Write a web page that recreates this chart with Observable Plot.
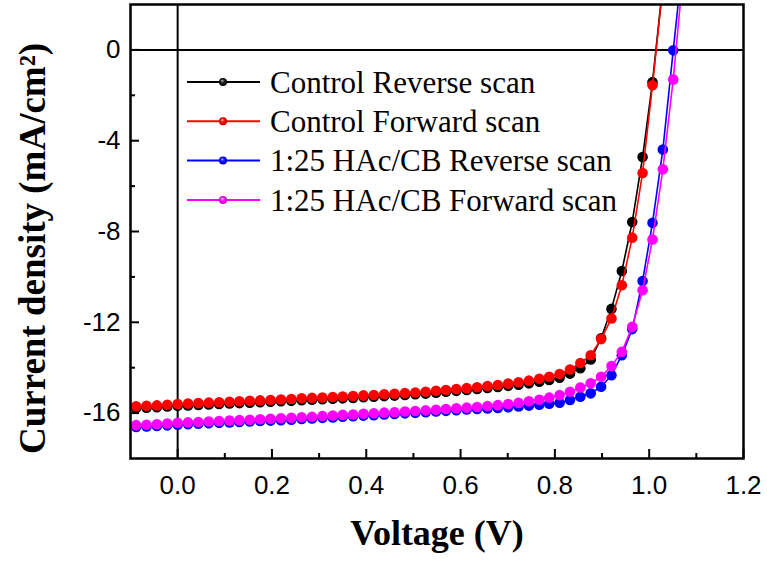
<!DOCTYPE html>
<html><head><meta charset="utf-8">
<script src="https://cdn.jsdelivr.net/npm/d3@7"></script>
<script src="https://cdn.jsdelivr.net/npm/@observablehq/plot@0.6"></script>
<style>
body{margin:0;background:#fff;}
#chart{position:relative;width:767px;height:563px;}
</style></head><body>
<svg width="0" height="0" style="position:absolute">
<defs>
<radialGradient id="g0" cx="0.5" cy="0.5" r="0.5" fx="0.38" fy="0.3">
<stop offset="0" stop-color="#c8c8c8"/><stop offset="0.45" stop-color="#202020"/><stop offset="1" stop-color="#000"/></radialGradient>
<radialGradient id="g1" cx="0.5" cy="0.5" r="0.5" fx="0.38" fy="0.3">
<stop offset="0" stop-color="#ffd8d8"/><stop offset="0.4" stop-color="#ff1a1a"/><stop offset="0.8" stop-color="#e00000"/><stop offset="1" stop-color="#a00000"/></radialGradient>
<radialGradient id="g2" cx="0.5" cy="0.5" r="0.5" fx="0.38" fy="0.3">
<stop offset="0" stop-color="#d0d0ff"/><stop offset="0.4" stop-color="#1a1aff"/><stop offset="0.8" stop-color="#0000e0"/><stop offset="1" stop-color="#0000a0"/></radialGradient>
<radialGradient id="g3" cx="0.5" cy="0.5" r="0.5" fx="0.38" fy="0.3">
<stop offset="0" stop-color="#ffd8ff"/><stop offset="0.4" stop-color="#ff1aff"/><stop offset="0.8" stop-color="#e000e0"/><stop offset="1" stop-color="#a000a0"/></radialGradient>
</defs></svg>
<div id="chart"></div>
<script>
// Voltage (V) sample points
const voltage = [-0.088,-0.066,-0.044,-0.022,0.000,0.022,0.044,0.066,0.088,0.110,0.131,0.153,0.175,0.197,0.219,0.241,0.263,0.285,0.307,0.329,0.350,0.372,0.394,0.416,0.438,0.460,0.482,0.504,0.526,0.548,0.569,0.591,0.613,0.635,0.657,0.679,0.701,0.723,0.745,0.767,0.788,0.810,0.832,0.854,0.876,0.898,0.920,0.942,0.964,0.986,1.007,1.029,1.051,1.073];

// Current density (mA/cm2)
const controlReverse = [-15.78,-15.76,-15.74,-15.71,-15.68,-15.66,-15.64,-15.62,-15.60,-15.58,-15.56,-15.54,-15.52,-15.50,-15.48,-15.46,-15.43,-15.41,-15.39,-15.37,-15.35,-15.33,-15.30,-15.28,-15.25,-15.23,-15.20,-15.17,-15.14,-15.10,-15.06,-15.02,-14.98,-14.94,-14.89,-14.85,-14.80,-14.75,-14.69,-14.62,-14.54,-14.44,-14.26,-14.02,-13.64,-12.70,-11.41,-9.74,-7.58,-4.72,-1.42,2.9];
const controlForward = [-15.70,-15.68,-15.66,-15.63,-15.60,-15.58,-15.56,-15.54,-15.52,-15.50,-15.48,-15.46,-15.44,-15.42,-15.40,-15.38,-15.35,-15.33,-15.31,-15.29,-15.27,-15.25,-15.22,-15.20,-15.17,-15.15,-15.12,-15.09,-15.06,-15.02,-14.98,-14.94,-14.90,-14.86,-14.81,-14.76,-14.70,-14.64,-14.57,-14.49,-14.40,-14.28,-14.08,-13.79,-13.45,-12.74,-11.83,-10.37,-8.27,-5.42,-1.56,2.8];
const hacReverse = [-16.61,-16.59,-16.57,-16.54,-16.51,-16.49,-16.47,-16.45,-16.43,-16.41,-16.39,-16.37,-16.35,-16.33,-16.31,-16.29,-16.26,-16.24,-16.21,-16.19,-16.16,-16.14,-16.11,-16.09,-16.06,-16.04,-16.01,-15.99,-15.96,-15.93,-15.90,-15.87,-15.84,-15.82,-15.80,-15.77,-15.74,-15.71,-15.67,-15.63,-15.59,-15.54,-15.42,-15.28,-15.13,-14.84,-14.33,-13.45,-12.30,-10.18,-7.62,-4.39,-0.02,4.3];
const hacForward = [-16.53,-16.51,-16.49,-16.46,-16.43,-16.41,-16.39,-16.37,-16.35,-16.33,-16.31,-16.29,-16.27,-16.25,-16.23,-16.21,-16.18,-16.16,-16.13,-16.11,-16.08,-16.06,-16.03,-16.01,-15.98,-15.96,-15.93,-15.91,-15.88,-15.85,-15.82,-15.79,-15.76,-15.73,-15.69,-15.65,-15.60,-15.55,-15.48,-15.41,-15.32,-15.21,-15.06,-14.87,-14.69,-14.40,-13.93,-13.30,-12.20,-10.59,-8.35,-5.26,-1.30,3.6];

const seriesNames = ["Control Reverse scan","Control Forward scan","1:25 HAc/CB Reverse scan","1:25 HAc/CB Forward scan"];
const seriesColors = ["#000000","#ff0000","#0000ff","#ff00ff"];

const xDomain = [-0.1, 1.2];
const yDomain = [-18, 2];
const xMajorTicks = [0, 0.2, 0.4, 0.6, 0.8, 1.0, 1.2];
const xMinorTicks = [0.1, 0.3, 0.5, 0.7, 0.9, 1.1];
const yMajorTicks = [0, -4, -8, -12, -16];
const yMinorTicks = [-2, -6, -10, -14];
const xLabel = "Voltage (V)";
const yLabel = "Current density (mA/cm\u00B2)";

const seriesValues = [controlReverse, controlForward, hacReverse, hacForward];
const series = seriesValues.map((vals, i) => ({
  name: seriesNames[i], color: seriesColors[i],
  data: vals.map((J, k) => ({V: voltage[k], J}))
}));

const W = 767, H = 563, mL = 130, mR = 24, mT = 4, mB = 105;
const pxPerY = (H - mT - mB) / (yDomain[1] - yDomain[0]);
const pxPerX = (W - mL - mR) / (xDomain[1] - xDomain[0]);
const majorLen = 9, minorLen = 5;

const marks = [
  Plot.ruleX([0], {stroke: "black", strokeWidth: 2}),
  Plot.ruleY([0], {stroke: "black", strokeWidth: 2})
];
series.forEach(s => {
  marks.push(Plot.line(s.data, {x: "V", y: "J", stroke: s.color, strokeWidth: 1.6, clip: true}));
  marks.push(Plot.dot(s.data, {x: "V", y: "J", r: 5.3, fill: s.color, stroke: "none", clip: true}));
});
marks.push(
  Plot.ruleX(xMajorTicks, {x: d => d, y1: yDomain[0], y2: yDomain[0] + majorLen / pxPerY, stroke: "black", strokeWidth: 2}),
  Plot.ruleX(xMinorTicks, {x: d => d, y1: yDomain[0], y2: yDomain[0] + minorLen / pxPerY, stroke: "black", strokeWidth: 2}),
  Plot.ruleY(yMajorTicks, {y: d => d, x1: xDomain[0], x2: xDomain[0] + majorLen / pxPerX, stroke: "black", strokeWidth: 2}),
  Plot.ruleY(yMinorTicks, {y: d => d, x1: xDomain[0], x2: xDomain[0] + minorLen / pxPerX, stroke: "black", strokeWidth: 2}),
  Plot.axisX(xMajorTicks, {tickSize: 0, tickPadding: 17, tickFormat: d => d.toFixed(1), fontSize: 26, label: null}),
  Plot.axisY(yMajorTicks, {tickSize: 0, tickPadding: 10, tickFormat: d => String(d), fontSize: 26, label: null}),
  Plot.frame({stroke: "black", strokeWidth: 2.5}),
  Plot.text([xLabel], {text: d => d, frameAnchor: "bottom", textAnchor: "middle", lineAnchor: "middle", dy: 75, fontSize: 36, fontWeight: "bold", fontFamily: "Liberation Serif", fill: "black"}),
  Plot.text([yLabel], {text: d => d, frameAnchor: "left", textAnchor: "middle", lineAnchor: "middle", rotate: -90, dx: -97, dy: 17, fontSize: 37, fontWeight: "bold", fontFamily: "Liberation Serif", fill: "black"})
);

const chart = Plot.plot({
  width: W, height: H,
  marginLeft: mL, marginRight: mR, marginTop: mT, marginBottom: mB,
  style: {fontFamily: "'Liberation Sans', Arial, sans-serif", background: "white", color: "black", overflow: "visible"},
  x: {domain: xDomain},
  y: {domain: yDomain},
  marks
});
document.getElementById("chart").appendChild(chart);

// sphere-shaded markers
d3.select(chart).selectAll('g[aria-label="dot"]').each(function(_, i) {
  this.setAttribute("fill", `url(#g${i})`);
});

// legend inside the plot
const lg = d3.select(chart).append("g");
const legendRowY = [82, 121.3, 160.6, 200];
seriesNames.forEach((name, i) => {
  const y = legendRowY[i];
  lg.append("line").attr("x1", 187).attr("x2", 260).attr("y1", y).attr("y2", y)
    .attr("stroke", seriesColors[i]).attr("stroke-width", 2);
  lg.append("circle").attr("cx", 223).attr("cy", y).attr("r", 4).attr("fill", `url(#g${i})`);
  lg.append("text").attr("x", 270).attr("y", y).attr("dy", "0.35em")
    .attr("text-anchor", "start")
    .attr("font-family", "'Liberation Serif', 'Times New Roman', serif").attr("font-size", 31)
    .attr("fill", "black").text(name);
});
</script>
</body></html>
